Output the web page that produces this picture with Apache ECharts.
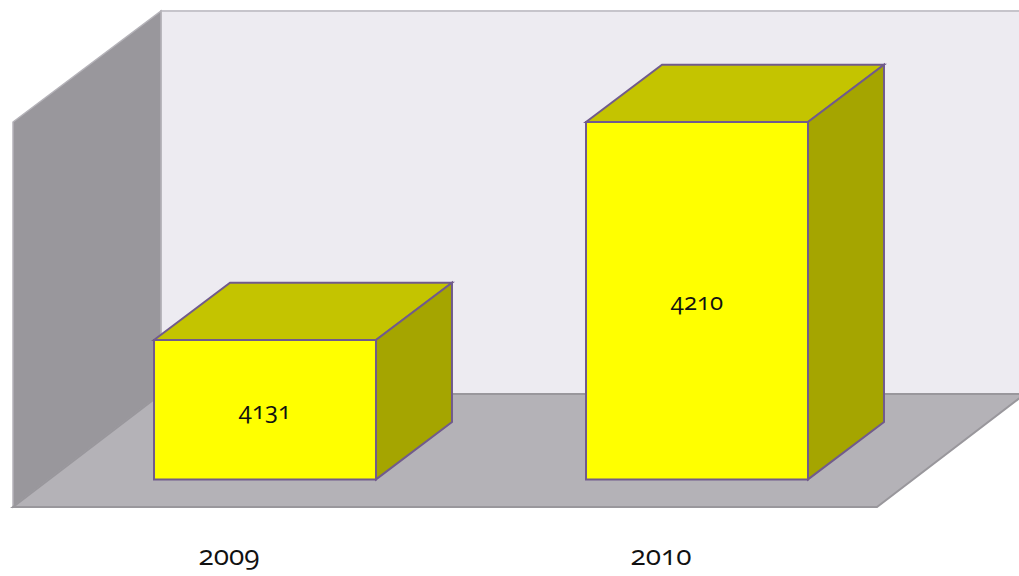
<!DOCTYPE html>
<html>
<head>
<meta charset="utf-8">
<style>
html,body{margin:0;padding:0;background:#fff}
#c{width:1019px;height:576px}
#c text{font-feature-settings:"onum" 1 !important;font-variant-numeric:oldstyle-nums !important}
</style>
<script src="https://cdn.jsdelivr.net/npm/echarts@6/dist/echarts.min.js"></script>
</head>
<body>
<div id="c"></div>
<script>
var categories = ['2009', '2010'];
var values = [4131, 4210];
var axisMin = 4080.5;
var axisMax = 4220;

var chart = echarts.init(document.getElementById('c'), null, {renderer: 'svg'});
var FONT = '"Open Sans", sans-serif';
var WALL = {dx: 148, dy: 113};
var OFF = {dx: 36, dy: 27.6};
var DEPTH = {dx: 76, dy: 57.3};
var EDGE = '#715b8c';

function poly(pts, fill, stroke, lw) {
  return {type: 'polygon', shape: {points: pts},
    style: {fill: fill, stroke: stroke || null, lineWidth: lw || 0, lineJoin: 'miter'}};
}
function room(params, api) {
  var g = params.coordSys;
  var x0 = g.x, x1 = g.x + g.width, yb = g.y + g.height, yt = g.y;
  var w = WALL;
  return {type: 'group', children: [
    poly([[x0 + w.dx, yt - w.dy + 2], [1030, yt - w.dy + 2], [1030, yb - w.dy], [x0 + w.dx, yb - w.dy]], '#edebf1', '#c6c4cb', 2),
    poly([[x0, yt], [x0 + w.dx, yt - w.dy + 2], [x0 + w.dx, yb - w.dy], [x0, yb]], '#99979c', '#b5b3b9', 1.5),
    poly([[x0, yb], [x0 + w.dx, yb - w.dy], [x1 + w.dx, yb - w.dy], [x1, yb]], '#b4b2b7', '#99979c', 2)
  ]};
}
function bar(params, api) {
  var top = api.coord([api.value(0), api.value(1)]);
  var bot = api.coord([api.value(0), axisMin]);
  var hw = api.size([1, 0])[0] * 0.2569;
  var l = top[0] - hw + OFF.dx, r = top[0] + hw + OFF.dx;
  var t = top[1] - OFF.dy, b = bot[1] - OFF.dy;
  var d = DEPTH;
  return {type: 'group', children: [
    poly([[l, t], [l + d.dx, t - d.dy], [r + d.dx, t - d.dy], [r, t]], '#c4c400', EDGE, 2),
    poly([[r, t], [r + d.dx, t - d.dy], [r + d.dx, b - d.dy], [r, b]], '#a5a500', EDGE, 2),
    poly([[l, t], [r, t], [r, b], [l, b]], '#ffff00', EDGE, 2),
    {type: 'text', x: (l + r) / 2, y: (t + b) / 2,
      style: {text: String(api.value(1)), fill: '#111', font: '24px ' + FONT, align: 'center', verticalAlign: 'middle'}}
  ]};
}
chart.setOption({
  animation: false,
  grid: {left: 13, right: 142, top: 122, bottom: 69},
  xAxis: {type: 'category', data: categories,
    axisLine: {show: false}, axisTick: {show: false},
    axisLabel: {color: '#111', fontSize: 28, fontFamily: FONT, margin: 33}},
  yAxis: {type: 'value', min: axisMin, max: axisMax, show: false, splitLine: {show: false}},
  series: [
    {type: 'custom', renderItem: room, data: [[0, axisMin]], silent: true, clip: false, z: 1},
    {type: 'custom', renderItem: bar, encode: {x: 0, y: 1}, clip: false, z: 2,
      data: categories.map(function (c, i) { return [i, values[i]]; })}
  ]
});
</script>
</body>
</html>
